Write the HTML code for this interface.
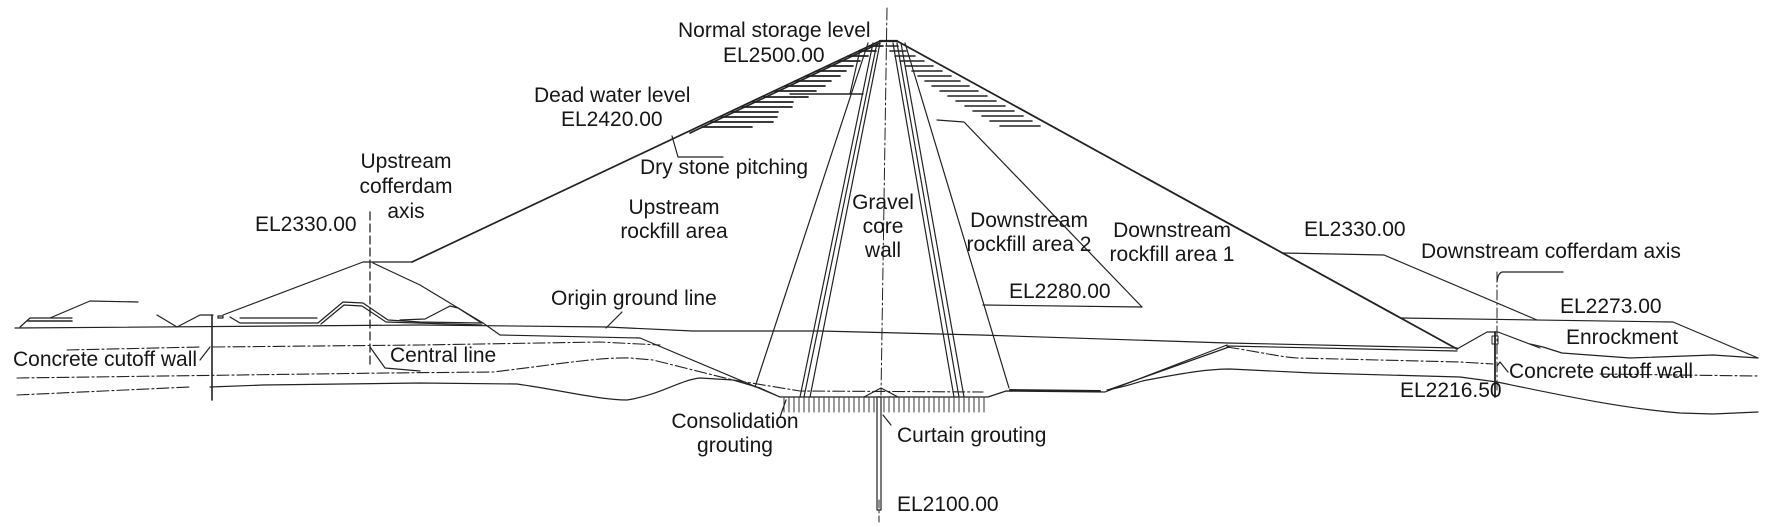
<!DOCTYPE html>
<html>
<head>
<meta charset="utf-8">
<style>
html,body{margin:0;padding:0;background:#fff;}
body{width:1772px;height:527px;overflow:hidden;}
svg{display:block;}
text{font-family:"Liberation Sans",Arial,sans-serif;font-size:21px;fill:#161616;}
</style>
</head>
<body>
<svg width="1772" height="527" viewBox="0 0 1772 527" xmlns="http://www.w3.org/2000/svg">
<rect width="1772" height="527" fill="#fff"/>
<g fill="none" stroke="#222" stroke-width="1.2" stroke-linejoin="round" stroke-linecap="round">
  <!-- crest & main slopes -->
  <path d="M880,41 L897,41" stroke-width="2.2"/>
  <path d="M880,41 L412,262" stroke-width="1.7"/>
  <path d="M880,43 L690,133" stroke-width="1.6"/>
  <path d="M897,41 L1457,349" stroke-width="1.8"/>

  <!-- upstream slope hatching -->
  <g stroke-width="1.7">
    <path d="M869,46 h14"/><path d="M859,51 h17"/><path d="M848,56 h20"/><path d="M838,61 h22"/>
    <path d="M827,66 h26"/><path d="M816,71 h30"/><path d="M806,76 h34"/><path d="M795,81 h36"/>
    <path d="M785,86 h40"/><path d="M774,91 h42"/><path d="M764,97 h44"/><path d="M753,102 h40"/>
    <path d="M742,107 h50"/><path d="M732,112 h46"/><path d="M721,117 h56"/><path d="M711,122 h62"/>
    <path d="M702,127 h50"/>
  </g>
  <!-- downstream slope hatching -->
  <g stroke-width="1.6">
    <path d="M886,46 h12"/><path d="M890,51 h16"/><path d="M895,56 h20"/><path d="M900,61 h24"/>
    <path d="M906,66 h27"/><path d="M912,71 h30"/><path d="M918,76 h33"/><path d="M925,81 h35"/>
    <path d="M932,86 h37"/><path d="M940,91 h38"/><path d="M948,96 h39"/><path d="M956,101 h40"/>
    <path d="M965,106 h40"/><path d="M973,111 h41"/><path d="M982,116 h41"/><path d="M990,121 h42"/>
    <path d="M1000,126 h40"/>
  </g>

  <!-- central axis -->
  <path d="M887,8 L881,395" stroke-width="1" stroke-dasharray="12 3 2 3"/>
  <path d="M879,500 L879,522" stroke-width="1" stroke-dasharray="8 3 2 3"/>

  <!-- core & zone lines -->
  <path d="M868,43 L755,387"/>
  <path d="M860,50 L850,94"/>
  <path d="M873,43 L800,397"/>
  <path d="M877,43 L804,397"/>
  <path d="M880,43 L810,397"/>
  <path d="M893,43 L954,397"/>
  <path d="M897,43 L959,397"/>
  <path d="M901,43 L964,397"/>
  <path d="M905,43 L1009,388"/>
  <path d="M790,94 L863,94" stroke-width="1.4"/>
  <path d="M937,120 L964,122 L1142,307"/>
  <path d="M983,305 L1142,307"/>
  <!-- dry stone leader -->
  <path d="M672,136 L678,157 L723,157"/>

  <!-- foundation -->
  <path d="M373,263 L420,285 L483,323 L500,335 L640,338 L780,397 L988,397 L1006,391 L1105,392 L1227,345"/>
  <path d="M1108,390 L1229,347"/>
  <path d="M1010,390 L1100,391" stroke-width="2"/>
  <path d="M864,397 L881,388 L898,397"/>
  <rect x="877" y="397" width="4" height="113" stroke-width="1.2"/>
  <g stroke-width="0.9">
    <path d="M784,398v14M789,398v14M794,398v14M799,398v14M804,398v14M809,398v14M814,398v14M819,398v14M824,398v14M829,398v14M834,398v14M839,398v14M844,398v14M849,398v14M854,398v14M859,398v14M864,398v14M869,398v14M874,398v14M884,398v14M889,398v14M894,398v14M899,398v14M904,398v14M909,398v14M914,398v14M919,398v14M924,398v14M929,398v14M934,398v14M939,398v14M944,398v14M949,398v14M954,398v14M959,398v14M964,398v14M969,398v14M974,398v14M979,398v14M984,398v14"/>
  </g>
  <!-- leaders center -->
  <path d="M780,417 L786,400"/>
  <path d="M891,425 L883,415"/>

  <!-- origin ground line -->
  <path d="M15,328 L420,325 L607,327 L693,331 L820,331 L980,335 L1227,343 L1457,348"/>
  <path d="M1227,346 L1457,351"/>
  <path d="M606,328 L622,312"/>

  <!-- left features -->
  <path d="M20,327 L30,318 L72,318"/>
  <path d="M28,321 L72,321" stroke-width="1.6"/>
  <path d="M50,318 L90,301 L138,302"/>
  <path d="M157,315 L177,327 L200,315 L213,315"/>
  <path d="M218,316 h5 v2 h-5z"/>
  <path d="M223,315 L363,262 L412,262"/>
  <path d="M230,317 L240,323 L318,323"/>
  <path d="M240,318 L317,318"/>
  <path d="M318,323 L343,302 L363,303 L388,320 L420,322 L482,323"/>
  <path d="M321,324 L344,305 L362,306 L386,322 L482,325"/>
  <path d="M400,320 L425,319 L450,306 L458,308 L480,322"/>
  <path d="M212,315 L212,400" stroke-width="1.6"/>
  <path d="M370,212 L370,365" stroke-width="1.3" stroke-dasharray="8 4"/>
  <path d="M200,360 L210,347"/>
  <path d="M370,347 L385,368 L420,371"/>

  <!-- dash-dot lines -->
  <g stroke-dasharray="12 3 2 3" stroke-width="1.1">
    <path d="M67,350 L200,347"/>
    <path d="M213,347 L420,345 L600,342 L660,345"/>
    <path d="M17,378 L386,373 L493,372 C560,364 600,357 630,358 L653,360 L733,380 L800,391 L983,392"/>
    <path d="M17,395 L190,387"/>
    <path d="M1227,347 C1260,352 1280,357 1297,358 L1460,362 L1493,364"/>
    <path d="M1600,374 L1758,376"/>
  </g>
  <!-- bedrock solid -->
  <path d="M210,387 L263,385 L420,383 L517,384 C560,390 600,400 627,400 C660,395 680,380 700,378 L733,380 L760,388 L780,397"/>
  <path d="M1107,390 C1130,386 1140,381 1147,380 C1180,374 1205,369 1230,369 L1313,373 L1460,377 L1497,382 C1560,395 1620,408 1680,413 L1713,414 L1758,412"/>

  <!-- right cofferdam -->
  <path d="M1282,253 L1384,255 L1537,320"/>
  <path d="M1400,318 L1673,322 L1758,358"/>
  <path d="M1457,349 L1487,332 L1498,332 L1540,348"/>
  <path d="M1530,344 L1543,347 L1562,353 L1630,358 L1713,355 L1758,358"/>
  <path d="M1495,332 L1495,397" stroke-width="1.8"/>
  <path d="M1497,272 L1497,390" stroke-width="1" stroke-dasharray="10 3 2 3"/>
  <path d="M1497,282 Q1498,272 1503,272 L1563,272"/>
  <path d="M1497,366 L1500,362 L1508,372"/>
  <path d="M1492,336 h6 v8 h-6z" stroke-width="1"/>
</g>

<!-- labels -->
<text x="678" y="37">Normal storage level</text>
<text x="723" y="62">EL2500.00</text>
<text x="534" y="102">Dead water level</text>
<text x="561" y="126">EL2420.00</text>
<text x="640" y="174">Dry stone pitching</text>
<text x="674" y="214" text-anchor="middle">Upstream</text>
<text x="674" y="238" text-anchor="middle">rockfill area</text>
<text x="883" y="209" text-anchor="middle">Gravel</text>
<text x="883" y="233" text-anchor="middle">core</text>
<text x="883" y="257" text-anchor="middle">wall</text>
<text x="1029" y="227" text-anchor="middle">Downstream</text>
<text x="1029" y="251" text-anchor="middle">rockfill area 2</text>
<text x="1172" y="237" text-anchor="middle">Downstream</text>
<text x="1172" y="261" text-anchor="middle">rockfill area 1</text>
<text x="406" y="168" text-anchor="middle">Upstream</text>
<text x="406" y="193" text-anchor="middle">cofferdam</text>
<text x="406" y="218" text-anchor="middle">axis</text>
<text x="255" y="231">EL2330.00</text>
<text x="1304" y="236">EL2330.00</text>
<text x="1421" y="258">Downstream cofferdam axis</text>
<text x="551" y="305">Origin ground line</text>
<text x="1009" y="298">EL2280.00</text>
<text x="13" y="366">Concrete cutoff wall</text>
<text x="390" y="362">Central line</text>
<text x="735" y="428" text-anchor="middle">Consolidation</text>
<text x="735" y="452" text-anchor="middle">grouting</text>
<text x="897" y="442">Curtain grouting</text>
<text x="897" y="511">EL2100.00</text>
<text x="1560" y="313">EL2273.00</text>
<text x="1566" y="344">Enrockment</text>
<text x="1509" y="378">Concrete cutoff wall</text>
<text x="1400" y="397">EL2216.50</text>
</svg>
</body>
</html>
